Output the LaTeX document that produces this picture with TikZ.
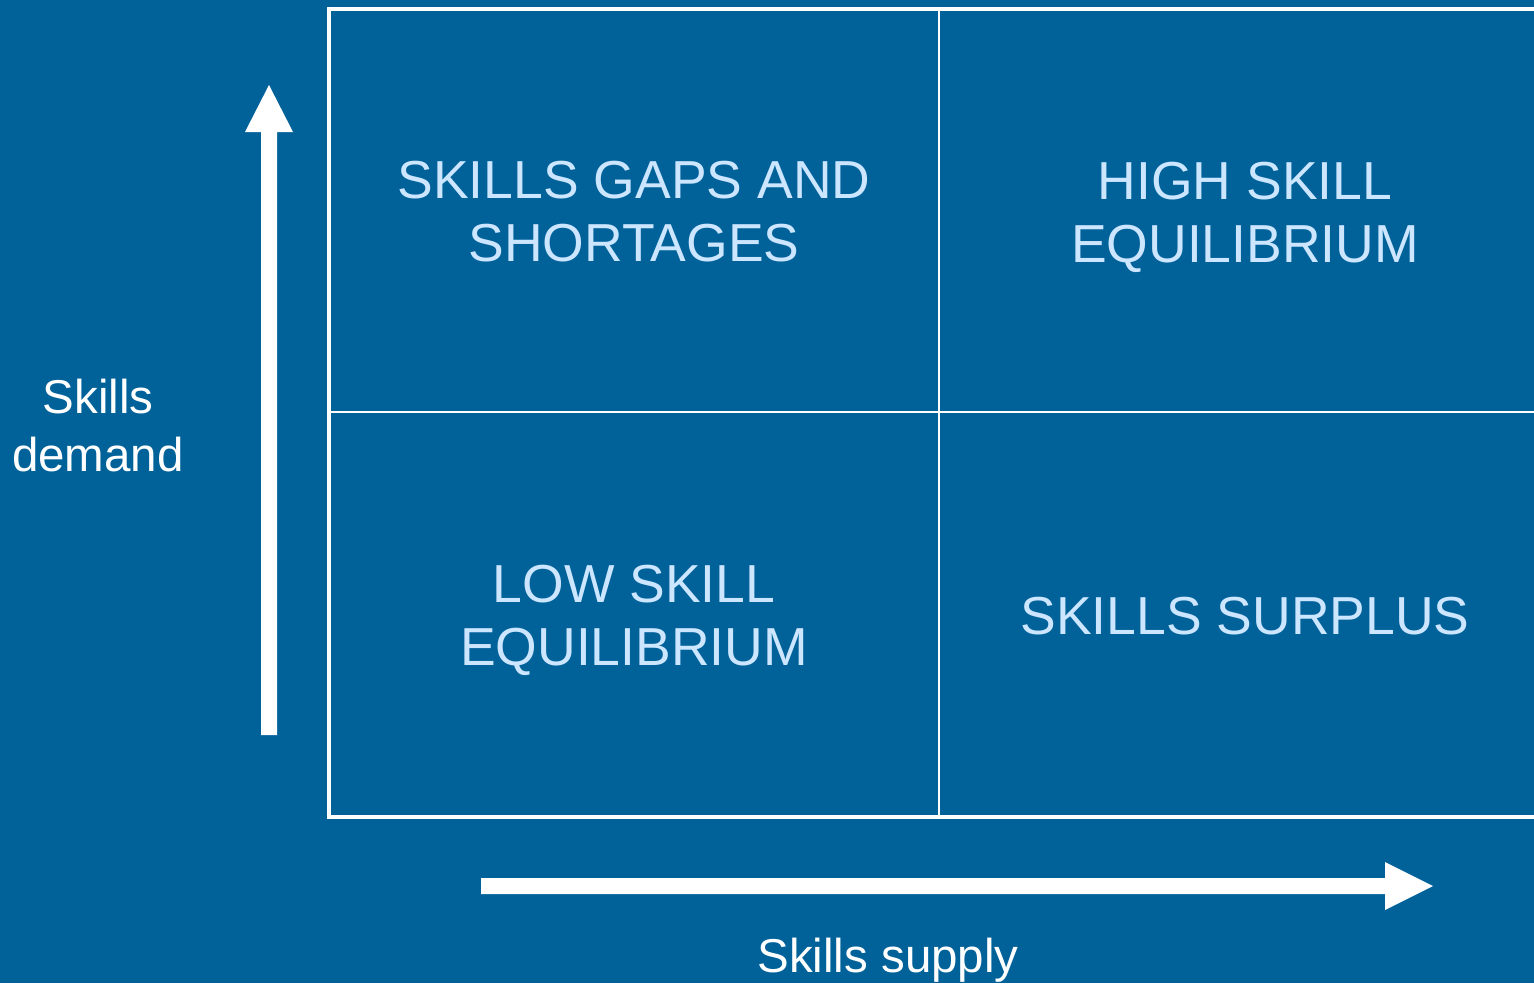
\documentclass[tikz,border=0pt]{standalone}
\usepackage{fontspec}
\setmainfont{Liberation Sans}
\definecolor{bg}{HTML}{01629A}
\definecolor{qtext}{HTML}{CCE6FF}
\begin{document}
\begin{tikzpicture}[x=1pt,y=-1pt,
  quad/.style={text=qtext,font=\fontsize{53.5}{63}\selectfont,align=center},
  axlabel/.style={text=white,font=\fontsize{47.5}{58}\selectfont,align=center},
  bigarrow/.style={fill=white,draw=none}]
\fill[bg] (0,0) rectangle (1534,983);
\useasboundingbox (0,0) rectangle (1534,983);
% frame
\draw[white,line width=4pt] (1560,8.5) -- (329,8.5) -- (329,817) -- (1560,817);
\draw[white,line width=2pt] (939,8.5) -- (939,817);
\draw[white,line width=2pt] (329,412) -- (1560,412);
% quadrant labels
\node[quad] (tl) at (634,212) {SKILLS GAPS AND\\SHORTAGES};
\node[quad] (tr) at (1245,217) {HIGH SKILL\\EQUILIBRIUM};
\node[quad] (bl) at (634,620) {LOW SKILL\\EQUILIBRIUM};
\node[quad] (br) at (1245,616) {SKILLS SURPLUS};
% arrows
\fill[bigarrow] (261,735) -- (277,735) -- (277,132) -- (293,132) -- (269,85) -- (245,132) -- (261,132) -- cycle;
\fill[bigarrow] (481,878) -- (1385,878) -- (1385,862) -- (1433,886) -- (1385,910) -- (1385,894) -- (481,894) -- cycle;
% axis labels
\node[axlabel] (yd) at (98,426) {Skills\\demand};
\node[axlabel] (xs) at (888,960) {Skills supply};
\end{tikzpicture}
\end{document}
